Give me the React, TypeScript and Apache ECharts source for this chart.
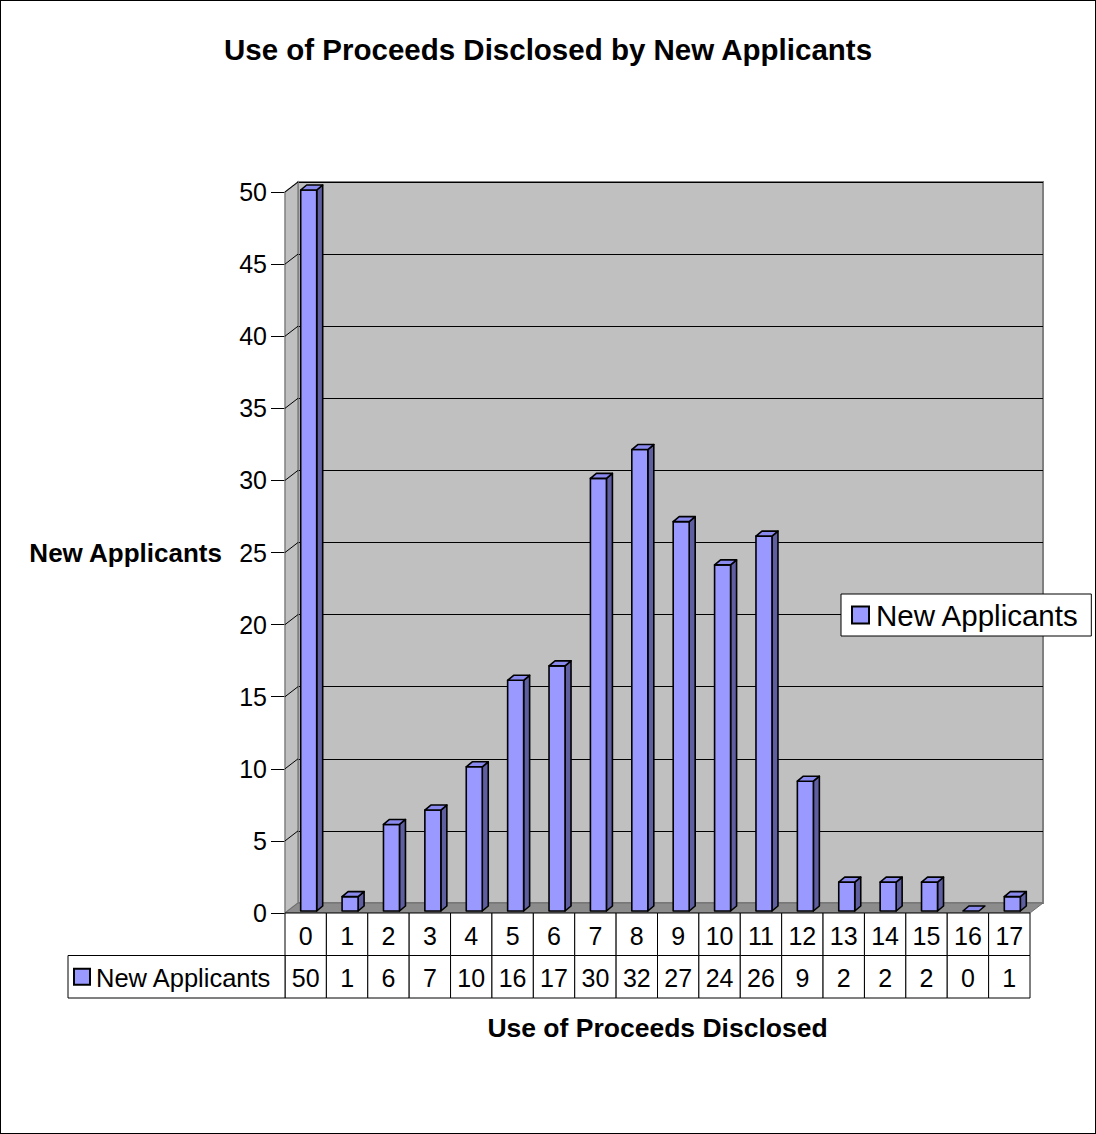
import React, { useEffect, useRef } from "react";
import * as echarts from "echarts";

// Number of use-of-proceeds items disclosed, and how many new applicants disclosed that many
const categories: string[] = ["0", "1", "2", "3", "4", "5", "6", "7", "8", "9", "10", "11", "12", "13", "14", "15", "16", "17"];
const applicants: number[] = [50, 1, 6, 7, 10, 16, 17, 30, 32, 27, 24, 26, 9, 2, 2, 2, 0, 1];
const yTicks: number[] = [0, 5, 10, 15, 20, 25, 30, 35, 40, 45, 50];

const SERIES_NAME = "New Applicants";
const TITLE = "Use of Proceeds Disclosed by New Applicants";
const X_NAME = "Use of Proceeds Disclosed";
const Y_NAME = "New Applicants";

const FONT = "'Liberation Sans', Arial, Helvetica, sans-serif";
const Y_MAX = 50;
const Y_STEP = 5;

// 3D look: depth of the wall box and of each column
const WALL_DX = 13;
const WALL_DY = -10;
const BAR_DX = 6;
const BAR_DY = -5;
const BAR_OX = 3;
const BAR_OY = -2;
const BAR_W = 16;

const FRONT = "#9999ff";
const TOP = "#8a8aee";
const SIDE = "#5e5ea0";

export default function App() {
  const ref = useRef<HTMLDivElement>(null);

  useEffect(() => {
    if (!ref.current) return;
    const chart = echarts.init(ref.current, undefined, { renderer: "svg" });

    const barData = applicants.map((v, i) => [i, v]);
    const wallData = yTicks.map((t) => [0, t]);
    const tableData = applicants.map((v, i) => [i, v]);

    const option: any = {
      animation: false,
      backgroundColor: "#ffffff",
      textStyle: { fontFamily: FONT },
      title: {
        text: TITLE,
        left: "center",
        top: 29,
        textStyle: { fontFamily: FONT, fontSize: 29.5, fontWeight: "bold", color: "#000" },
      },
      legend: {
        data: [
          {
            name: SERIES_NAME,
            icon: "rect",
            itemStyle: { color: FRONT, borderColor: "#000", borderWidth: 2 },
          },
        ],
        left: 841,
        top: 594,
        orient: "vertical",
        itemWidth: 17,
        itemHeight: 17,
        padding: [6, 12, 6, 10],
        backgroundColor: "#ffffff",
        borderColor: "#000",
        borderWidth: 1,
        borderRadius: 0,
        textStyle: { fontFamily: FONT, fontSize: 29.5, color: "#000", padding: [0, 0, 0, 2] },
        selectedMode: false,
      },
      grid: [
        // front plane: value axis and columns
        { left: 285, top: 192, width: 745, height: 721 },
        // back wall with the gridlines
        {
          left: 285 + WALL_DX,
          top: 192 + WALL_DY,
          width: 745,
          height: 721,
          show: true,
          backgroundColor: "#c0c0c0",
          borderColor: "#808080",
          borderWidth: 2,
        },
        // data table below the plot
        { left: 285, top: 913, width: 745, height: 85 },
      ],
      xAxis: [
        {
          type: "category",
          gridIndex: 0,
          data: categories,
          axisLine: { show: false },
          axisTick: { show: false },
          axisLabel: { show: false },
          splitLine: { show: false },
        },
        {
          type: "category",
          gridIndex: 1,
          data: categories,
          show: false,
        },
        {
          type: "category",
          gridIndex: 2,
          data: categories,
          axisLine: { show: false },
          axisTick: { show: false },
          axisLabel: { show: false },
          splitLine: { show: false },
          name: X_NAME,
          nameLocation: "middle",
          nameGap: 16,
          nameTextStyle: { fontFamily: FONT, fontSize: 26.5, fontWeight: "bold", color: "#000" },
        },
      ],
      yAxis: [
        {
          type: "value",
          gridIndex: 0,
          min: 0,
          max: Y_MAX,
          interval: Y_STEP,
          axisLine: { show: true, lineStyle: { color: "#808080", width: 1 } },
          axisTick: { show: true, length: 14, lineStyle: { color: "#000", width: 1 } },
          axisLabel: { fontFamily: FONT, fontSize: 25, color: "#000", margin: 18 },
          splitLine: { show: false },
          name: Y_NAME,
          nameLocation: "middle",
          nameRotate: 0,
          nameGap: 63,
          nameTextStyle: { fontFamily: FONT, fontSize: 26, fontWeight: "bold", color: "#000", align: "right" },
        },
        {
          type: "value",
          gridIndex: 1,
          min: 0,
          max: Y_MAX,
          interval: Y_STEP,
          axisLine: { show: false },
          axisTick: { show: false },
          axisLabel: { show: false },
          splitLine: { show: true, lineStyle: { color: "#000", width: 1 } },
        },
        {
          type: "value",
          gridIndex: 2,
          min: 0,
          max: 2,
          show: false,
        },
      ],
      series: [
        // side wall, floor and the slanted gridlines on the side wall
        {
          type: "custom",
          name: "walls",
          xAxisIndex: 0,
          yAxisIndex: 0,
          z: 1,
          silent: true,
          data: wallData,
          renderItem: (params: any, api: any) => {
            const v = api.value(1);
            const half = api.size([1, 0])[0] / 2;
            const p = api.coord([0, v]);
            const xl = p[0] - half;
            const children: any[] = [];
            if (params.dataIndex === 0) {
              const base = api.coord([0, 0]);
              const top = api.coord([0, Y_MAX]);
              const xr = api.coord([categories.length - 1, 0])[0] + half;
              children.push({
                type: "polygon",
                shape: {
                  points: [
                    [xl, top[1]],
                    [xl + WALL_DX, top[1] + WALL_DY],
                    [xl + WALL_DX, base[1] + WALL_DY],
                    [xl, base[1]],
                  ],
                },
                style: { fill: "#c0c0c0", stroke: "#808080", lineWidth: 1.5 },
              });
              children.push({
                type: "polygon",
                shape: {
                  points: [
                    [xl, base[1]],
                    [xl + WALL_DX, base[1] + WALL_DY],
                    [xr + WALL_DX, base[1] + WALL_DY],
                    [xr, base[1]],
                  ],
                },
                style: { fill: "#8c8c8c", stroke: "#6e6e6e", lineWidth: 1 },
              });
            }
            if (v > 0) {
              children.push({
                type: "line",
                shape: { x1: xl, y1: p[1], x2: xl + WALL_DX, y2: p[1] + WALL_DY },
                style: { stroke: "#000", lineWidth: 1 },
              });
            }
            return { type: "group", children };
          },
        },
        // 3D columns
        {
          type: "custom",
          name: SERIES_NAME,
          xAxisIndex: 0,
          yAxisIndex: 0,
          z: 3,
          itemStyle: { color: FRONT, borderColor: "#000", borderWidth: 2 },
          data: barData,
          renderItem: (params: any, api: any) => {
            const i = api.value(0);
            const v = api.value(1);
            const base = api.coord([i, 0]);
            const top = api.coord([i, v]);
            const x0 = top[0] - BAR_W / 2 + BAR_OX;
            const x1 = x0 + BAR_W;
            const yt = top[1] + BAR_OY;
            const yb = base[1] + BAR_OY;
            const stroke = { stroke: "#000", lineWidth: 1.6, lineJoin: "round" };
            const children: any[] = [];
            if (yb - yt > 0.5) {
              children.push({
                type: "polygon",
                shape: {
                  points: [
                    [x1, yt],
                    [x1 + BAR_DX, yt + BAR_DY],
                    [x1 + BAR_DX, yb + BAR_DY],
                    [x1, yb],
                  ],
                },
                style: { fill: SIDE, ...stroke },
              });
              children.push({
                type: "rect",
                shape: { x: x0, y: yt, width: BAR_W, height: yb - yt },
                style: { fill: FRONT, ...stroke },
              });
            }
            children.push({
              type: "polygon",
              shape: {
                points: [
                  [x0, yt],
                  [x0 + BAR_DX, yt + BAR_DY],
                  [x1 + BAR_DX, yt + BAR_DY],
                  [x1, yt],
                ],
              },
              style: { fill: TOP, ...stroke },
            });
            return { type: "group", children };
          },
        },
        // data table: category row and value row
        {
          type: "custom",
          name: "table",
          xAxisIndex: 2,
          yAxisIndex: 2,
          z: 4,
          silent: true,
          data: tableData,
          renderItem: (params: any, api: any) => {
            const i = api.value(0);
            const v = api.value(1);
            const half = api.size([1, 0])[0] / 2;
            const c = api.coord([i, 0]);
            const xl = c[0] - half;
            const w = half * 2;
            const yTop = api.coord([i, 2])[1];
            const yMid = api.coord([i, 1])[1];
            const yBot = api.coord([i, 0])[1];
            const cellStyle = { fill: "#fff", stroke: "#000", lineWidth: 1 };
            const textStyle = {
              fontFamily: FONT,
              fontSize: 25,
              fill: "#000",
              align: "center",
              verticalAlign: "middle",
            };
            const children: any[] = [
              { type: "rect", shape: { x: xl, y: yTop, width: w, height: yMid - yTop }, style: cellStyle },
              { type: "rect", shape: { x: xl, y: yMid, width: w, height: yBot - yMid }, style: cellStyle },
              {
                type: "text",
                style: { text: categories[i], x: c[0], y: (yTop + yMid) / 2 + 2, ...textStyle },
              },
              {
                type: "text",
                style: { text: String(v), x: c[0], y: (yMid + yBot) / 2 + 1, ...textStyle },
              },
            ];
            if (i === 0) {
              const ym = (yMid + yBot) / 2;
              children.push({
                type: "rect",
                shape: { x: xl - 217, y: yMid, width: 217, height: yBot - yMid },
                style: cellStyle,
              });
              children.push({
                type: "rect",
                shape: { x: xl - 211, y: ym - 8, width: 16, height: 16 },
                style: { fill: FRONT, stroke: "#000", lineWidth: 2 },
              });
              children.push({
                type: "text",
                style: {
                  text: SERIES_NAME,
                  x: xl - 189,
                  y: ym + 1,
                  fontFamily: FONT,
                  fontSize: 25.5,
                  fill: "#000",
                  align: "left",
                  verticalAlign: "middle",
                },
              });
            }
            return { type: "group", children };
          },
        },
      ],
    };

    chart.setOption(option);
    return () => {
      chart.dispose();
    };
  }, []);

  return (
    <div style={{ position: "fixed", left: 0, top: 0, width: 1096, height: 1134 }}>
      <div ref={ref} style={{ position: "absolute", left: 0, top: 0, width: 1096, height: 1134 }} />
      {/* chart-area frame */}
      <div
        style={{
          position: "absolute",
          left: 0,
          top: 0,
          width: 1096,
          height: 1134,
          boxSizing: "border-box",
          border: "1px solid #000",
          pointerEvents: "none",
        }}
      />
    </div>
  );
}
